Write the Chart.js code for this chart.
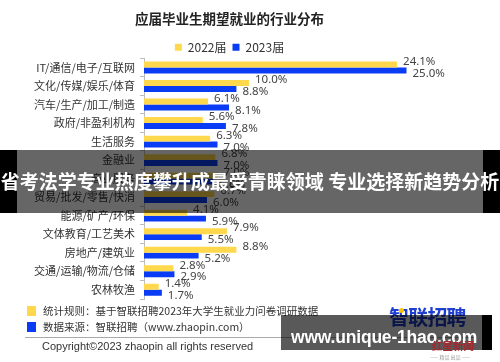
<!DOCTYPE html>
<html>
<head>
<meta charset="utf-8">
<script src="https://cdn.jsdelivr.net/npm/chart.js@4.4.0/dist/chart.umd.min.js"></script>
<style>
  html, body { margin: 0; padding: 0; background: #fff; }
  body { width: 500px; height: 362px; position: relative; overflow: hidden;
         font-family: "Noto Sans CJK SC", "Noto Sans", sans-serif; color: #333; }
  #wrap { position: absolute; left: 0; top: 0; width: 476px; height: 362px; }
  .note { position: absolute; left: 27px; font-size: 10.5px; line-height: 12px; white-space: nowrap; }
  .note i { position: absolute; left: 0; top: 1px; width: 9px; height: 10px; }
  .note span { position: absolute; left: 16px; top: 0; }
  #rule { position: absolute; left: 25px; top: 337px; width: 450px; height: 1px; background: #aaa; }
  #copy { position: absolute; left: 42px; top: 340px; font-size: 11px; font-family: "Liberation Sans", sans-serif; }
  #logo { position: absolute; left: 389px; top: 303px; font-size: 20px; line-height: 28px; font-weight: bold;
          color: #1f3fd0; letter-spacing: -0.8px; }
  #logo b { position: absolute; left: 10px; top: 5px; width: 5px; height: 5px; border-radius: 50%; background: #ffc400; }
  #banner { position: absolute; left: 0; top: 150px; width: 500px; height: 63px; background: rgba(0,0,0,0.6); }
  #banner .bk { position: absolute; top: 0; width: 17px; height: 63px; background: #000; }
  #banner .txt { position: absolute; left: -10px; width: 520px; top: 19px; text-align: center; color: #fff;
                 font-size: 19px; font-weight: bold; line-height: 24px; white-space: nowrap; }
  #wm { position: absolute; left: 281px; top: 315px; width: 201px; height: 35px; background: rgba(0,0,0,0.65); }
  #wm .bk { position: absolute; left: 201px; top: 0; width: 10px; height: 35px; background: #000; }
  #wm .txt { position: absolute; left: 10px; top: 12px; color: #fff; font-family: "Liberation Sans", sans-serif;
             font-weight: bold; font-size: 17.5px; line-height: 20px; white-space: nowrap; letter-spacing: -0.2px; }
  #red { position: absolute; left: 432px; top: 339px; color: #a8262b; font-size: 10.5px; line-height: 13px; font-weight: bold; }
  #sub { position: absolute; left: 430px; top: 354px; color: #999; font-size: 5px; line-height: 6px; white-space: nowrap; }
</style>
</head>
<body>
<div id="wrap"><canvas id="chart" width="476" height="362"></canvas></div>

<div class="note" style="top:305px"><i style="background:#ffd84d"></i><span>统计规则：基于智联招聘2023年大学生就业力问卷调研数据</span></div>
<div class="note" style="top:321px"><i style="background:#0a3cf5"></i><span>数据来源：智联招聘（www.zhaopin.com）</span></div>
<div id="rule"></div>
<div id="copy">Copyright©2023 zhaopin all rights reserved</div>
<div id="logo">智联招聘<b></b></div>

<div id="banner">
  <div class="bk" style="left:0"></div>
  <div class="bk" style="left:483px"></div>
  <div class="txt">省考法学专业热度攀升成最受青睐领域 专业选择新趋势分析</div>
</div>
<div id="wm">
  <div class="txt">www.unique-1hao.com</div>
  <div class="bk"></div>
</div>
<div id="red">红星新闻</div>
<div id="sub">—— 精品 出品 ——</div>

<script>
const categories = [
  'IT/通信/电子/互联网',
  '文化/传媒/娱乐/体育',
  '汽车/生产/加工/制造',
  '政府/非盈利机构',
  '生活服务',
  '金融业',
  '商业服务',
  '贸易/批发/零售/快消',
  '能源/矿产/环保',
  '文体教育/工艺美术',
  '房地产/建筑业',
  '交通/运输/物流/仓储',
  '农林牧渔',
];
const seriesNames = ['2022届', '2023届'];
const values2022 = [24.1, 10.0, 6.1, 5.6, 6.3, 6.8, 7.0, 6.7, 4.1, 7.9, 8.8, 2.8, 1.4];
const values2023 = [25.0, 8.8, 8.1, 7.8, 7.0, 7.0, 6.6, 6.0, 5.9, 5.5, 5.2, 2.9, 1.7];

const COLORS = { y2022: '#ffd84d', y2023: '#0a3cf5', text: '#333', label: '#444', axis: '#bdbdbd' };

// value labels to the right of each bar, nudged apart vertically
const barLabels = {
  id: 'barLabels',
  afterDatasetsDraw(chart) {
    const ctx = chart.ctx;
    ctx.save();
    ctx.font = '11.5px "Noto Sans", "Liberation Sans", sans-serif';
    ctx.fillStyle = COLORS.label;
    ctx.textBaseline = 'middle';
    ctx.textAlign = 'left';
    chart.data.datasets.forEach((ds, di) => {
      chart.getDatasetMeta(di).data.forEach((bar, i) => {
        const dy = di === 0 ? -3 : 3;
        ctx.fillText(ds.data[i].toFixed(1) + '%', bar.x + 6, bar.y + dy);
      });
    });
    ctx.restore();
  },
};

new Chart(document.getElementById('chart'), {
  type: 'bar',
  plugins: [barLabels],
  data: {
    labels: categories,
    datasets: [
      { label: seriesNames[0], data: values2022, backgroundColor: COLORS.y2022 },
      { label: seriesNames[1], data: values2023, backgroundColor: COLORS.y2023 },
    ],
  },
  options: {
    indexAxis: 'y',
    responsive: false,
    animation: false,
    events: [],
    layout: { padding: { left: 0, right: 17, top: 0, bottom: 63 } },
    categoryPercentage: 0.64,
    barPercentage: 1.0,
    scales: {
      x: { display: false, min: 0, max: 30 },
      y: {
        afterFit: (s) => { s.width = 144; },
        border: { display: true, color: COLORS.axis },
        grid: { display: true, drawOnChartArea: false, offset: true, tickLength: 4, color: COLORS.axis },
        ticks: { color: COLORS.text, padding: 5, font: { size: 11, family: '"Noto Sans CJK SC", sans-serif' } },
      },
    },
    plugins: {
      title: {
        display: true,
        text: '应届毕业生期望就业的行业分布',
        color: '#222',
        font: { size: 13.5, weight: 'bold', family: '"Noto Sans CJK SC", sans-serif' },
        padding: { top: 11, bottom: 8 },
      },
      legend: {
        display: true,
        maxHeight: 23,
        labels: {
          boxWidth: 7, boxHeight: 7, padding: 6, color: COLORS.text,
          font: { size: 12, family: '"Noto Sans CJK SC", sans-serif' },
        },
      },
      tooltip: { enabled: false },
    },
  },
});
</script>
</body>
</html>
